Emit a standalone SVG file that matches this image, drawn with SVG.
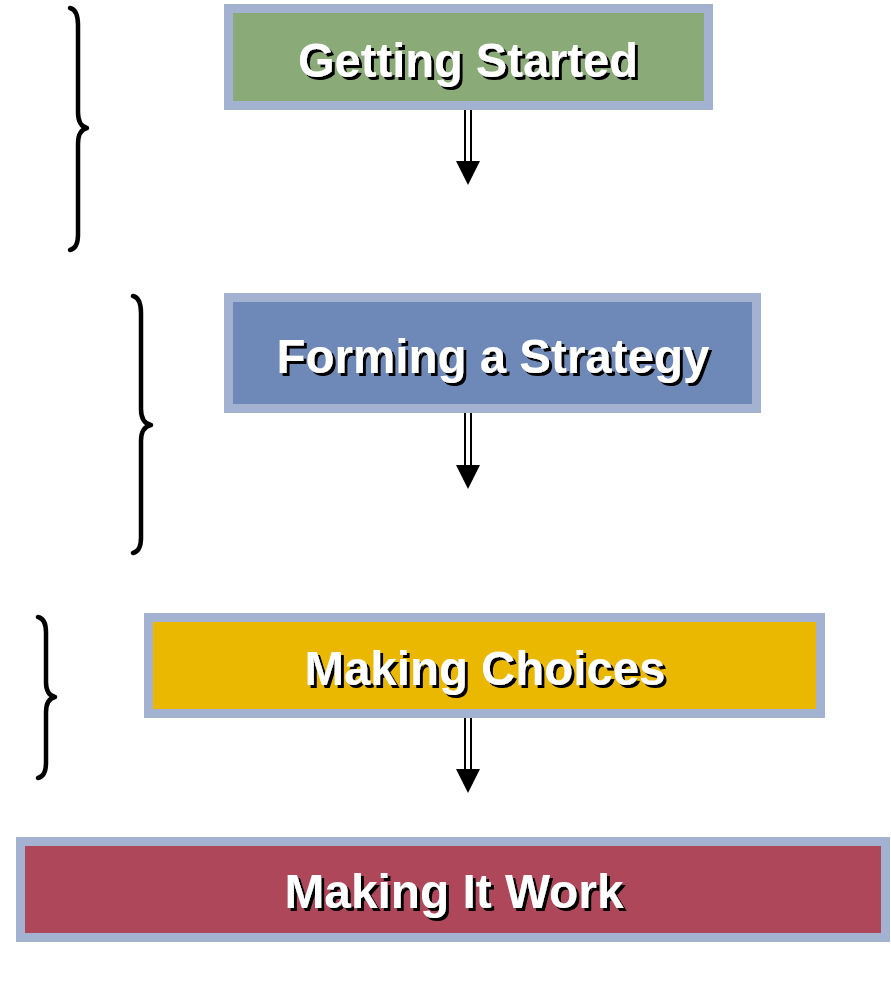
<svg xmlns="http://www.w3.org/2000/svg" width="891" height="1001" viewBox="0 0 891 1001">
<defs>
<filter id="shadow" x="-5%" y="-20%" width="115%" height="150%">
<feOffset in="SourceAlpha" dx="3" dy="3" result="off"/>
<feMerge><feMergeNode in="off"/><feMergeNode in="SourceGraphic"/></feMerge>
</filter>
</defs>
<style>
.frame{stroke:#A2B2D0;stroke-width:9}
.lbl{font-family:"Liberation Sans",Arial,sans-serif;font-weight:bold;font-size:49px;text-anchor:middle;fill:#fff;filter:url(#shadow)}
.brace{fill:none;stroke:#000;stroke-width:4.5;stroke-linecap:round;stroke-linejoin:round}
.shaft{stroke:#000;stroke-width:2}
.head{fill:#000}
</style>
<rect width="891" height="1001" fill="#fff"/>
<g id="n1">
<rect class="frame" x="228.5" y="8.5" width="480" height="97" fill="#8AAB78"/>
<text class="lbl" x="468" y="77" textLength="340" lengthAdjust="spacingAndGlyphs">Getting Started</text>
</g>
<g id="n2">
<rect class="frame" x="228.5" y="297.5" width="528" height="111" fill="#6E89B8"/>
<text class="lbl" x="493" y="373" textLength="433" lengthAdjust="spacingAndGlyphs">Forming a Strategy</text>
</g>
<g id="n3">
<rect class="frame" x="148.5" y="617.5" width="672" height="96" fill="#EAB800"/>
<text class="lbl" x="485" y="685" textLength="361" lengthAdjust="spacingAndGlyphs">Making Choices</text>
</g>
<g id="n4">
<rect class="frame" x="20.5" y="841.5" width="865" height="96" fill="#AD4759"/>
<text class="lbl" x="454" y="908" textLength="339" lengthAdjust="spacingAndGlyphs">Making It Work</text>
</g>
<g id="braces">
<path class="brace" d="M70,8 Q78,10 78,25 L78,112 Q78,126 87,128 Q78,130 78,144 L78,235 Q78,248 70,250"/>
<path class="brace" d="M133,296 Q141,298 141,313 L141,409 Q141,423 151,425 Q141,427 141,441 L141,538 Q141,551 133,553"/>
<path class="brace" d="M38,617 Q46,619 46,632 L46,682 Q46,695 55,697 Q46,699 46,712 L46,763 Q46,776 38,778"/>
</g>
<g id="connectors">
<line class="shaft" x1="465" y1="110" x2="465" y2="162"/>
<line class="shaft" x1="471" y1="110" x2="471" y2="162"/>
<polygon class="head" points="456,161 480,161 468,185"/>
<line class="shaft" x1="465" y1="413" x2="465" y2="466"/>
<line class="shaft" x1="471" y1="413" x2="471" y2="466"/>
<polygon class="head" points="456,465 480,465 468,489"/>
<line class="shaft" x1="465" y1="718" x2="465" y2="770"/>
<line class="shaft" x1="471" y1="718" x2="471" y2="770"/>
<polygon class="head" points="456,769 480,769 468,793"/>
</g>
</svg>
